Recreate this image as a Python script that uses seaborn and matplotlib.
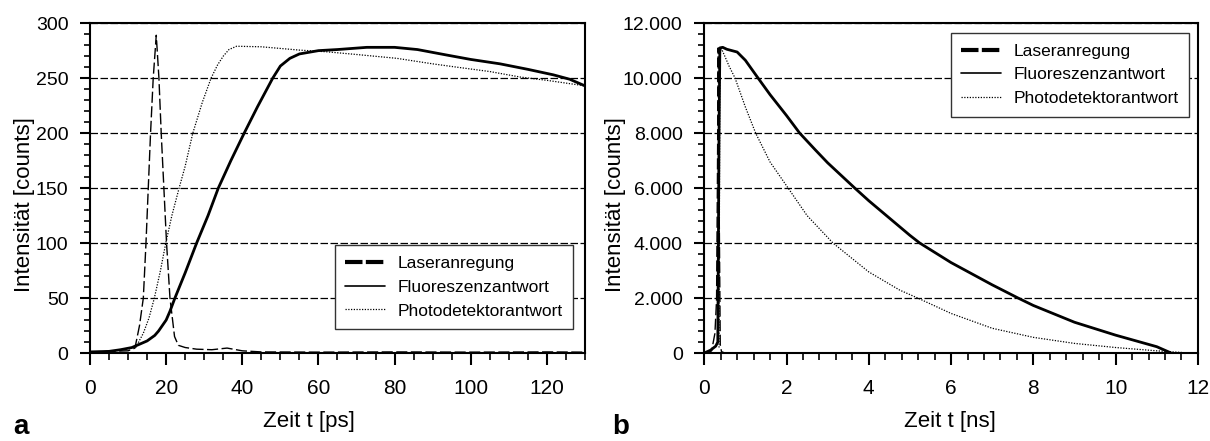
import matplotlib
matplotlib.use('Agg')
import matplotlib.pyplot as plt
import seaborn as sns
from matplotlib.lines import Line2D
from matplotlib.ticker import MultipleLocator, FuncFormatter

# ---- panel a: time in ps ----
laser_ps_t = [0, 5, 10, 11.8, 13, 14.0, 14.7, 15.3, 15.9, 16.6, 17.4, 18.1, 18.7, 19.4, 20.1,
              21.0, 22.2, 23.2, 25, 28, 32, 36, 40, 45, 60, 80, 100, 120, 130]
laser_ps_v = [1, 1.5, 2, 4.5, 25, 50, 100, 150, 200, 250, 289, 250, 200, 150, 100,
              50, 15, 7, 5, 3.5, 3, 4.5, 2, 1, 0.8, 1, 0.8, 1, 0.8]

fluor_ps_t = [0, 5, 8, 11, 13, 15, 17, 18, 20, 21, 22.3, 25, 28, 31, 33.7, 37, 40.5, 44, 48,
              50, 52.5, 55, 60, 65, 72.7, 80, 86, 93.7, 100, 107.7, 115, 121.7, 126, 130]
fluor_ps_v = [1, 1.5, 3, 5, 8, 11, 16, 20, 30, 38, 50, 73, 100, 125, 150, 175, 200, 224, 250,
              261, 268, 272, 275, 276, 278, 278, 276, 271, 267, 263, 258, 253, 249, 243]

photo_ps_t = [12, 14, 15.5, 16.9, 18.5, 19.9, 21.5, 23.4, 25, 27, 29.5, 31.8, 33.5, 35, 36.5,
              38.5, 45, 55, 62, 70, 80.6, 90, 96.3, 105, 113, 120, 130]
photo_ps_v = [5, 18, 32, 50, 75, 100, 125, 150, 170, 200, 228, 250, 262, 270, 276,
              279, 278.5, 275.5, 274, 271.5, 268, 263, 260, 256, 251, 248, 243]

# ---- panel b: time in ns ----
laser_ns_t = [0, 0.1, 0.18, 0.26, 0.30, 0.32, 0.34, 0.36, 0.39, 0.42, 0.5, 2, 6, 12]
laser_ns_v = [0, 20, 80, 715, 1930, 6000, 11100, 6000, 300, 50, 0, 0, 0, 0]

fluor_ns_t = [0, 0.15, 0.28, 0.33, 0.36, 0.38, 0.45, 0.55, 0.8, 1.0, 1.2, 1.31, 1.6, 2.0, 2.32,
              2.7, 3.0, 3.66, 4.0, 4.5, 5.0, 5.24, 6.0, 7.0, 7.63, 8.0, 9.0, 10.0, 11.0, 11.35]
fluor_ns_v = [0, 100, 250, 400, 8000, 11100, 11120, 11050, 10950, 10650, 10230, 10000, 9400,
              8640, 8000, 7390, 6920, 6000, 5540, 4910, 4280, 4000, 3290, 2480, 2000, 1730,
              1120, 650, 230, 0]

photo_ns_t = [0.36, 0.38, 0.41, 0.5, 0.6, 0.75, 1.0, 1.25, 1.6, 2.04, 2.5, 3.13, 4.0, 4.75,
              5.19, 6.0, 7.0, 8.0, 9.0, 10.0, 11.0, 11.7]
photo_ns_v = [200, 10800, 11100, 10800, 10450, 10000, 8950, 8000, 6950, 6000, 5000, 4000,
              2950, 2290, 2000, 1440, 900, 570, 350, 200, 80, 10]

labels = ['Laseranregung', 'Fluoreszenzantwort', 'Photodetektorantwort']

sns.set_style('ticks')
plt.rcParams['font.family'] = ['Liberation Sans', 'DejaVu Sans']
plt.rcParams['text.color'] = 'black'
plt.rcParams['axes.labelcolor'] = 'black'
plt.rcParams['xtick.color'] = 'black'
plt.rcParams['ytick.color'] = 'black'

fig = plt.figure(figsize=(12.1, 4.41), dpi=100)
ax1 = fig.add_axes([0.0744, 0.1995, 0.409, 0.748])
ax2 = fig.add_axes([0.582, 0.1995, 0.408, 0.748])

dash_laser = (0, (8, 2.5))
dot_photo = (0, (1, 1.2))


def draw_panel(ax, lt, lv, ft, fv, pt, pv):
    sns.lineplot(x=pt, y=pv, ax=ax, color='black', lw=0.9, linestyle=dot_photo,
                 estimator=None, sort=False)
    sns.lineplot(x=lt, y=lv, ax=ax, color='black', lw=1.0, linestyle=dash_laser,
                 estimator=None, sort=False)
    sns.lineplot(x=ft, y=fv, ax=ax, color='black', lw=2.0,
                 estimator=None, sort=False)


draw_panel(ax1, laser_ps_t, laser_ps_v, fluor_ps_t, fluor_ps_v, photo_ps_t, photo_ps_v)
draw_panel(ax2, laser_ns_t, laser_ns_v, fluor_ns_t, fluor_ns_v, photo_ns_t, photo_ns_v)

ax1.set_xlim(0, 130)
ax1.set_ylim(0, 300)
ax1.xaxis.set_major_locator(MultipleLocator(20))
ax1.xaxis.set_minor_locator(MultipleLocator(5))
ax1.yaxis.set_major_locator(MultipleLocator(50))
ax1.yaxis.set_minor_locator(MultipleLocator(10))

ax2.set_xlim(0, 12)
ax2.set_ylim(0, 12000)
ax2.xaxis.set_major_locator(MultipleLocator(2))
ax2.xaxis.set_minor_locator(MultipleLocator(0.4))
ax2.yaxis.set_major_locator(MultipleLocator(2000))
ax2.yaxis.set_minor_locator(MultipleLocator(400))
ax2.yaxis.set_major_formatter(FuncFormatter(lambda v, p: f'{int(round(v)):,}'.replace(',', '.')))

handles = [
    Line2D([], [], color='black', lw=3, linestyle=(0, (4.2, 0.8))),
    Line2D([], [], color='black', lw=1.2),
    Line2D([], [], color='black', lw=0.9, linestyle=dot_photo),
]

for ax, unit, xlab_x in [(ax1, 'ps', 0.442), (ax2, 'ns', 0.498)]:
    ax.set_axisbelow(True)
    ax.yaxis.grid(True, color='black', lw=0.9, linestyle=(0, (6, 2)))
    ax.xaxis.grid(False)
    for s in ax.spines.values():
        s.set_linewidth(1.5)
        s.set_color('black')
    ax.tick_params(axis='x', which='major', length=8.5, width=1.5, labelsize=15, pad=10)
    ax.tick_params(axis='x', which='minor', length=5, width=1.2)
    ax.tick_params(axis='y', which='major', length=7.5, width=1.5, labelsize=14, pad=8)
    ax.tick_params(axis='y', which='minor', length=4, width=1.2)
    ax.set_xlabel(f'Zeit t [{unit}]', fontsize=16)
    ax.set_ylabel('Intensität [counts]', fontsize=16)
    ax.xaxis.set_label_coords(xlab_x, -0.176)

ax1.yaxis.set_label_coords(-0.111, 0.4515)
ax2.yaxis.set_label_coords(-0.158, 0.4515)

leg_kw = dict(fontsize=12.5, frameon=True, fancybox=False, framealpha=1, edgecolor='#333333',
              handlelength=2.3, handletextpad=0.7, borderpad=0.6, labelspacing=0.5,
              borderaxespad=0)
l1 = ax1.legend(handles, labels, loc='lower right', bbox_to_anchor=(0.976, 0.073), **leg_kw)
l2 = ax2.legend(handles, labels, loc='upper right', bbox_to_anchor=(0.982, 0.970), **leg_kw)
for leg in (l1, l2):
    leg.get_frame().set_linewidth(1.0)

fig.text(0.011, 0.003, 'a', fontsize=20, fontweight='bold', va='bottom')
fig.text(0.506, 0.003, 'b', fontsize=20, fontweight='bold', va='bottom')

fig.savefig('out.png', dpi=100)
